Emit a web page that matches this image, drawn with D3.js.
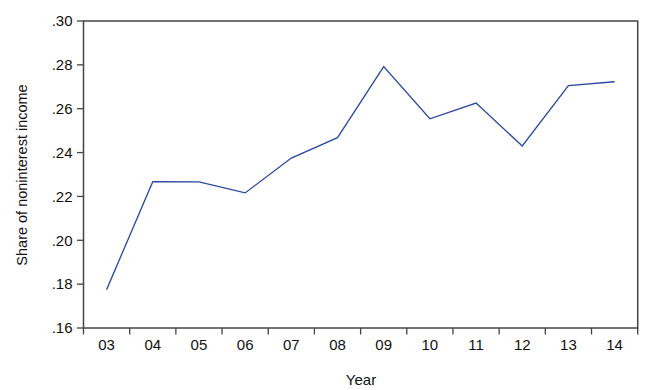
<!DOCTYPE html>
<html><head><meta charset="utf-8">
<script src="https://cdn.jsdelivr.net/npm/d3@7"></script>
<style>body{margin:0;background:#fff}svg{display:block}text{font-family:"Liberation Sans",Arial,sans-serif;fill:#111}</style>
</head><body><svg id="c" width="650" height="390"></svg>
<script>
const years = ["03","04","05","06","07","08","09","10","11","12","13","14"];
const share = [0.1775,0.2267,0.2266,0.2216,0.2375,0.2468,0.2792,0.2554,0.2626,0.2430,0.2705,0.2723];
const yTicks = [0.16,0.18,0.20,0.22,0.24,0.26,0.28,0.30];
const yTickLabels = [".16",".18",".20",".22",".24",".26",".28",".30"];

const svg = d3.select("#c");
const L=83.5, R=637.7, T=21, B=328;
const x = d3.scaleBand().domain(years).range([L,R]);
const y = d3.scaleLinear().domain([0.16,0.30]).range([B,T]);
const axisColor="#444";

svg.append("rect").attr("x",L).attr("y",T).attr("width",R-L).attr("height",B-T)
  .attr("fill","none").attr("stroke",axisColor).attr("stroke-width",1.5);

const yg = svg.append("g");
yTicks.forEach((v,i)=>{
  yg.append("line").attr("x1",L-6.5).attr("x2",L).attr("y1",y(v)).attr("y2",y(v)).attr("stroke",axisColor).attr("stroke-width",1.3);
  yg.append("text").attr("x",L-11).attr("y",y(v)).attr("dy","0.35em").attr("text-anchor","end")
    .attr("font-size",15).text(yTickLabels[i]);
});

const bounds = years.map(d=>x(d)).concat([R]);
bounds.forEach(b=>{
  svg.append("line").attr("x1",b).attr("x2",b).attr("y1",B).attr("y2",B+6.5).attr("stroke",axisColor).attr("stroke-width",1.3);
});
years.forEach(d=>{
  svg.append("text").attr("x",x(d)+x.bandwidth()/2).attr("y",349.5).attr("text-anchor","middle")
    .attr("font-size",15).text(d);
});

const line = d3.line().x((d,i)=>x(years[i])+x.bandwidth()/2).y(d=>y(d));
svg.append("path").datum(share).attr("d",line).attr("fill","none")
  .attr("stroke","#2b479f").attr("stroke-width",1.3).attr("stroke-linejoin","miter");

svg.append("text").attr("x",361).attr("y",385).attr("text-anchor","middle").attr("font-size",15).text("Year");
svg.append("text").attr("transform","translate(27,175) rotate(-90)").attr("text-anchor","middle")
  .attr("font-size",14.5).text("Share of noninterest income");
</script></body></html>
